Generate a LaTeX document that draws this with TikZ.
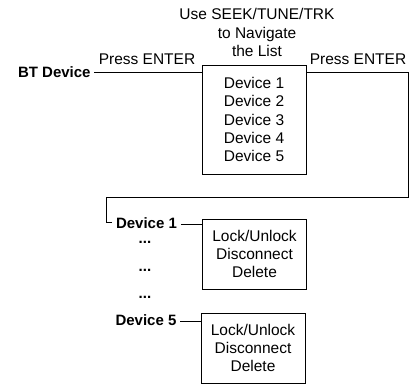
\documentclass[tikz,border=0pt]{standalone}
\usepackage{fontspec}
\setmainfont{Liberation Sans}
\begin{document}
\begin{tikzpicture}[x=1pt,y=-1pt,line width=0.8pt,
  txt/.style={inner sep=0pt,font=\fontsize{15.5}{18.3}\selectfont,align=center},
  btxt/.style={inner sep=0pt,font=\fontsize{15}{18}\selectfont\bfseries},
  listbox/.style={draw,inner sep=0pt,minimum width=104pt,font=\fontsize{15.5}{18.3}\selectfont,align=center}]
\useasboundingbox (0,0) rectangle (413,385);
\node[txt] (top) at (257,32.5) {Use SEEK/TUNE/TRK\\to Navigate\\the List};
\node[btxt,anchor=east] (bt) at (91,72.5) {BT Device};
\node[txt] (pe1) at (147,59) {Press ENTER};
\node[txt] (pe2) at (358,59) {Press ENTER};
\node[listbox,minimum height=109pt] (main) at (254,119.5) {Device 1\\Device 2\\Device 3\\Device 4\\Device 5};
\node[btxt] (d1) at (146.5,223) {Device 1};
\node[btxt] (dots1) at (145,242) {...};
\node[btxt] (dots2) at (145,270) {...};
\node[btxt] (dots3) at (145,297) {...};
\node[btxt] (d5) at (146,320) {Device 5};
\node[listbox,minimum height=70pt] (b1) at (254.5,254) {Lock/Unlock\\Disconnect\\Delete};
\node[listbox,minimum height=70pt] (b5) at (253,348) {Lock/Unlock\\Disconnect\\Delete};
\coordinate (c1) at (408,72);
\coordinate (c2) at (408,197);
\coordinate (c3) at (106,197);
\coordinate (c4) at (106,222);
\coordinate (c5) at (112,222);
\draw ([xshift=3pt]bt.east |- c1) -- (main.west |- c1);
\draw (main.east |- c1) -- (c1) -- (c2) -- (c3) -- (c4) -- (c5);
\draw ([xshift=3.5pt,yshift=-1pt]d1.east) -- ([yshift=-1pt]d1.east -| b1.west);
\draw ([xshift=3.5pt,yshift=-1pt]d5.east) -- ([yshift=-1pt]d5.east -| b5.west);
\end{tikzpicture}
\end{document}
